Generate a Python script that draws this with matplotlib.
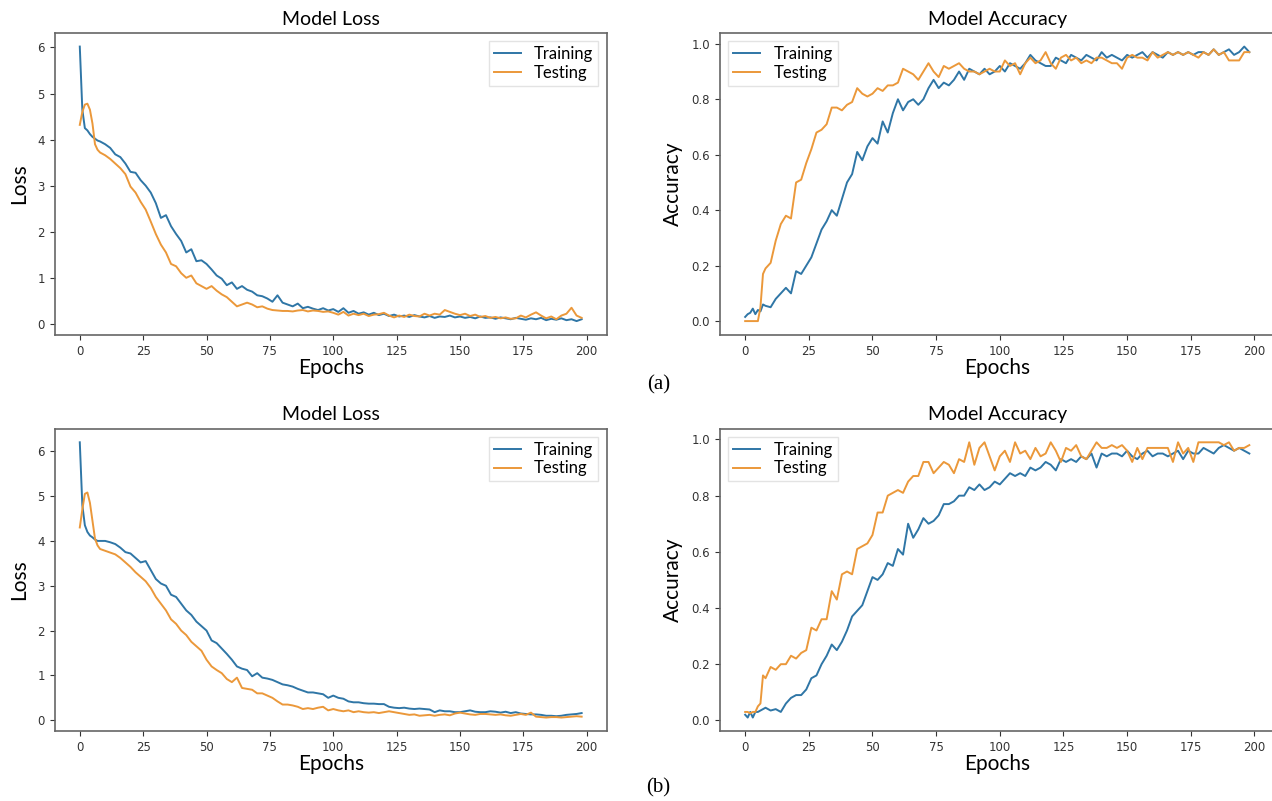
import numpy as np
import matplotlib
matplotlib.use("Agg")
import matplotlib.pyplot as plt

# epochs: every epoch for the first 8, then every 2nd epoch
EPOCHS = list(range(0, 8)) + list(range(8, 200, 2))

# ---- (a) ----
loss_a_train = [6.02, 4.65, 4.25, 4.20, 4.12, 4.06, 4.02, 3.98,
                3.96, 3.90, 3.82, 3.68, 3.62, 3.48,
                3.30, 3.28, 3.12, 3.00, 2.85, 2.62, 2.30, 2.36, 2.12, 1.95,
                1.80, 1.55, 1.62, 1.36, 1.38, 1.30, 1.18, 1.05, 0.98, 0.84,
                0.90, 0.76, 0.82, 0.74, 0.70, 0.62, 0.60, 0.55, 0.48, 0.62,
                0.46, 0.42, 0.38, 0.44, 0.34, 0.37, 0.33, 0.30, 0.34, 0.29,
                0.32, 0.26, 0.34, 0.24, 0.28, 0.22, 0.25, 0.20, 0.24, 0.19,
                0.22, 0.17, 0.20, 0.16, 0.18, 0.15, 0.19, 0.16, 0.14, 0.17,
                0.13, 0.16, 0.15, 0.18, 0.14, 0.16, 0.13, 0.15, 0.12, 0.16,
                0.13, 0.14, 0.11, 0.14, 0.12, 0.10, 0.13, 0.11, 0.09, 0.12,
                0.10, 0.13, 0.08, 0.11, 0.09, 0.12, 0.08, 0.10, 0.06, 0.10]
loss_a_test = [4.32, 4.60, 4.76, 4.78, 4.65, 4.35, 3.90, 3.78,
               3.72, 3.66, 3.58, 3.48, 3.38, 3.25,
               2.98, 2.85, 2.65, 2.48, 2.22, 1.95, 1.72, 1.55, 1.30, 1.25,
               1.10, 1.00, 1.05, 0.88, 0.82, 0.76, 0.82, 0.72, 0.64, 0.58,
               0.48, 0.38, 0.42, 0.46, 0.42, 0.36, 0.38, 0.33, 0.30, 0.29,
               0.28, 0.28, 0.27, 0.29, 0.30, 0.27, 0.29, 0.28, 0.26, 0.27,
               0.24, 0.20, 0.26, 0.18, 0.22, 0.19, 0.22, 0.17, 0.20, 0.21,
               0.24, 0.18, 0.14, 0.18, 0.15, 0.20, 0.17, 0.16, 0.22, 0.18,
               0.22, 0.20, 0.30, 0.26, 0.22, 0.19, 0.22, 0.17, 0.20, 0.15,
               0.17, 0.13, 0.15, 0.12, 0.14, 0.11, 0.12, 0.18, 0.14, 0.20,
               0.25, 0.18, 0.12, 0.16, 0.10, 0.18, 0.22, 0.35, 0.18, 0.13]
acc_a_train = [0.015, 0.025, 0.03, 0.045, 0.025, 0.04, 0.035, 0.06,
               0.055, 0.05, 0.08, 0.10, 0.12, 0.10,
               0.18, 0.17, 0.20, 0.23, 0.28, 0.33, 0.36, 0.40, 0.38, 0.44,
               0.50, 0.53, 0.61, 0.58, 0.63, 0.66, 0.64, 0.72, 0.68, 0.75,
               0.80, 0.76, 0.79, 0.80, 0.78, 0.80, 0.84, 0.87, 0.84, 0.86,
               0.85, 0.87, 0.90, 0.87, 0.91, 0.90, 0.89, 0.91, 0.89, 0.90,
               0.92, 0.90, 0.93, 0.92, 0.91, 0.93, 0.96, 0.94, 0.93, 0.92,
               0.92, 0.95, 0.94, 0.93, 0.96, 0.95, 0.94, 0.96, 0.95, 0.94,
               0.97, 0.95, 0.96, 0.95, 0.94, 0.96, 0.95, 0.96, 0.97, 0.95,
               0.97, 0.96, 0.95, 0.97, 0.96, 0.97, 0.96, 0.97, 0.96, 0.97,
               0.97, 0.96, 0.98, 0.96, 0.97, 0.98, 0.96, 0.97, 0.99, 0.97]
acc_a_test = [0.0, 0.0, 0.0, 0.0, 0.0, 0.0, 0.05, 0.17,
              0.19, 0.21, 0.29, 0.35, 0.38, 0.37,
              0.50, 0.51, 0.57, 0.62, 0.68, 0.69, 0.71, 0.77, 0.77, 0.76,
              0.78, 0.79, 0.84, 0.82, 0.81, 0.82, 0.84, 0.83, 0.85, 0.85,
              0.86, 0.91, 0.90, 0.89, 0.87, 0.90, 0.93, 0.90, 0.88, 0.92,
              0.91, 0.92, 0.93, 0.91, 0.90, 0.90, 0.89, 0.90, 0.91, 0.90,
              0.90, 0.94, 0.92, 0.93, 0.89, 0.93, 0.95, 0.93, 0.94, 0.97,
              0.93, 0.91, 0.95, 0.96, 0.94, 0.95, 0.93, 0.94, 0.93, 0.95,
              0.95, 0.94, 0.93, 0.93, 0.91, 0.95, 0.96, 0.95, 0.95, 0.94,
              0.97, 0.95, 0.96, 0.97, 0.96, 0.97, 0.96, 0.97, 0.96, 0.95,
              0.97, 0.96, 0.98, 0.96, 0.97, 0.94, 0.94, 0.94, 0.97, 0.97]

# ---- (b) ----
loss_b_train = [6.20, 4.80, 4.35, 4.20, 4.12, 4.08, 4.03, 4.00,
                4.00, 4.00, 3.97, 3.93, 3.85, 3.75,
                3.72, 3.62, 3.52, 3.55, 3.35, 3.15, 3.05, 3.00, 2.80, 2.75,
                2.60, 2.45, 2.35, 2.20, 2.10, 2.00, 1.78, 1.72, 1.60, 1.48,
                1.35, 1.20, 1.15, 1.12, 0.98, 1.05, 0.95, 0.93, 0.90, 0.85,
                0.80, 0.78, 0.75, 0.70, 0.66, 0.62, 0.62, 0.60, 0.58, 0.50,
                0.55, 0.50, 0.48, 0.42, 0.40, 0.40, 0.38, 0.37, 0.37, 0.36,
                0.36, 0.30, 0.28, 0.27, 0.28, 0.26, 0.25, 0.26, 0.25, 0.24,
                0.18, 0.22, 0.20, 0.20, 0.18, 0.18, 0.20, 0.22, 0.19, 0.18,
                0.18, 0.20, 0.19, 0.17, 0.19, 0.16, 0.18, 0.15, 0.14, 0.13,
                0.13, 0.12, 0.10, 0.10, 0.09, 0.10, 0.12, 0.13, 0.14, 0.16]
loss_b_test = [4.30, 4.70, 5.05, 5.08, 4.85, 4.45, 4.05, 3.90,
               3.82, 3.78, 3.74, 3.70, 3.62, 3.52,
               3.42, 3.30, 3.20, 3.10, 2.95, 2.75, 2.60, 2.45, 2.25, 2.15,
               2.00, 1.90, 1.75, 1.65, 1.55, 1.35, 1.20, 1.12, 1.05, 0.92,
               0.85, 0.95, 0.72, 0.70, 0.68, 0.60, 0.60, 0.55, 0.50, 0.42,
               0.35, 0.35, 0.33, 0.30, 0.25, 0.27, 0.25, 0.28, 0.30, 0.22,
               0.25, 0.22, 0.20, 0.22, 0.18, 0.20, 0.18, 0.17, 0.18, 0.16,
               0.18, 0.20, 0.18, 0.16, 0.14, 0.12, 0.13, 0.10, 0.11, 0.12,
               0.10, 0.12, 0.13, 0.11, 0.15, 0.17, 0.15, 0.13, 0.12, 0.14,
               0.14, 0.13, 0.12, 0.13, 0.11, 0.10, 0.12, 0.14, 0.12, 0.17,
               0.08, 0.07, 0.06, 0.07, 0.07, 0.06, 0.07, 0.08, 0.09, 0.08]
acc_b_train = [0.02, 0.01, 0.03, 0.01, 0.03, 0.03, 0.035, 0.04,
               0.045, 0.035, 0.04, 0.03, 0.06, 0.08,
               0.09, 0.09, 0.11, 0.15, 0.16, 0.20, 0.23, 0.27, 0.25, 0.28,
               0.32, 0.37, 0.39, 0.41, 0.46, 0.51, 0.50, 0.52, 0.56, 0.55,
               0.61, 0.59, 0.70, 0.65, 0.68, 0.72, 0.70, 0.71, 0.73, 0.77,
               0.77, 0.78, 0.80, 0.80, 0.83, 0.82, 0.84, 0.82, 0.83, 0.85,
               0.84, 0.86, 0.88, 0.87, 0.88, 0.87, 0.90, 0.89, 0.90, 0.92,
               0.91, 0.89, 0.93, 0.92, 0.93, 0.92, 0.94, 0.93, 0.95, 0.90,
               0.95, 0.94, 0.95, 0.95, 0.94, 0.96, 0.94, 0.93, 0.95, 0.96,
               0.94, 0.95, 0.95, 0.94, 0.95, 0.96, 0.93, 0.96, 0.95, 0.95,
               0.97, 0.96, 0.95, 0.97, 0.98, 0.97, 0.96, 0.97, 0.96, 0.95]
acc_b_test = [0.03, 0.03, 0.025, 0.03, 0.03, 0.05, 0.06, 0.16,
              0.15, 0.19, 0.18, 0.20, 0.20, 0.23,
              0.22, 0.24, 0.25, 0.33, 0.32, 0.36, 0.36, 0.46, 0.43, 0.52,
              0.53, 0.52, 0.61, 0.62, 0.63, 0.66, 0.74, 0.74, 0.80, 0.81,
              0.82, 0.81, 0.85, 0.87, 0.87, 0.92, 0.92, 0.88, 0.90, 0.92,
              0.91, 0.88, 0.93, 0.92, 0.99, 0.91, 0.97, 0.99, 0.94, 0.89,
              0.94, 0.96, 0.92, 0.99, 0.95, 0.96, 0.93, 0.97, 0.94, 0.95,
              0.99, 0.96, 0.92, 0.97, 0.96, 0.98, 0.94, 0.93, 0.96, 0.99,
              0.97, 0.97, 0.98, 0.97, 0.98, 0.96, 0.92, 0.97, 0.93, 0.97,
              0.97, 0.97, 0.97, 0.97, 0.92, 0.99, 0.95, 0.97, 0.92, 0.99,
              0.99, 0.99, 0.99, 0.99, 0.98, 0.99, 0.96, 0.97, 0.97, 0.98]

C_TRAIN = '#2f76a6'
C_TEST = '#eb983a'
LBL_FONT = 'Lato'

fig = plt.figure(figsize=(12.72, 8.01), dpi=100)

# left column a bit narrower; right column runs off the right edge like the source
panels = [
    ([0.043, 0.582, 0.434, 0.377], loss_a_train, loss_a_test, 'Model Loss', 'Loss', 'upper right'),
    ([0.566, 0.582, 0.436, 0.377], acc_a_train, acc_a_test, 'Model Accuracy', 'Accuracy', 'upper left'),
    ([0.043, 0.087, 0.434, 0.378], loss_b_train, loss_b_test, 'Model Loss', 'Loss', 'upper right'),
    ([0.566, 0.087, 0.436, 0.378], acc_b_train, acc_b_test, 'Model Accuracy', 'Accuracy', 'upper left'),
]

for rect, tr, te, title, ylab, loc in panels:
    ax = fig.add_axes(rect)
    ax.plot(EPOCHS, tr, color=C_TRAIN, lw=1.4, label='Training')
    ax.plot(EPOCHS, te, color=C_TEST, lw=1.4, label='Testing')
    ax.set_title(title, fontsize=14, family=LBL_FONT, pad=6)
    ax.set_xlabel('Epochs', fontsize=15, family=LBL_FONT, labelpad=0)
    ax.set_ylabel(ylab, fontsize=15, family=LBL_FONT, labelpad=6)
    ax.set_xticks([0, 25, 50, 75, 100, 125, 150, 175, 200])
    ax.tick_params(labelsize=8.5, colors='#333333', length=3.5)
    for s in ax.spines.values():
        s.set_color('#666666')
        s.set_linewidth(1.2)
    ax.legend(loc=loc, prop={'family': LBL_FONT, 'size': 12},
              handlelength=1.6, borderpad=0.3, labelspacing=0.15,
              fancybox=False, edgecolor='#dddddd')

fig.text(0.5175, 0.519, '(a)', fontsize=15, family='Liberation Serif', ha='center', va='center')
fig.text(0.5175, 0.016, '(b)', fontsize=15, family='Liberation Serif', ha='center', va='center')

fig.savefig('out.png', dpi=100)
